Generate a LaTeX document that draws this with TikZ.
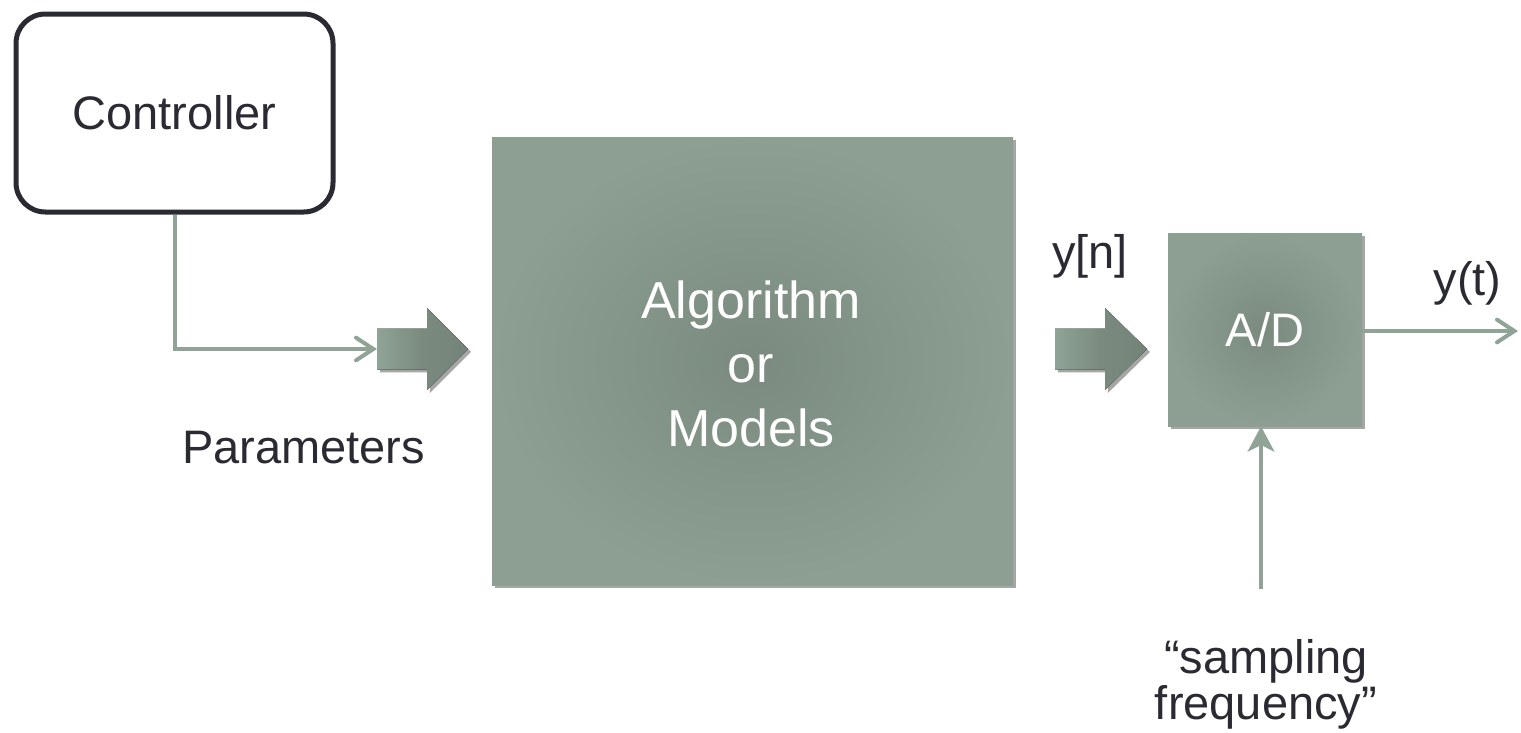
\documentclass[tikz,border=0pt]{standalone}
\usepackage{fontspec}
\setmainfont{Liberation Sans}
\usetikzlibrary{arrows.meta,shadows}
\definecolor{sage}{HTML}{8FA396}
\definecolor{sagedark}{HTML}{7A8A7F}
\definecolor{sagelight}{HTML}{8D9F93}
\definecolor{ink}{HTML}{2A2A33}
\tikzset{
  lbl/.style={text=ink, font=\fontsize{35.25}{42}\selectfont, inner sep=0pt},
  ctrlbox/.style={draw=ink, line width=3.75pt, rounded corners=22pt, fill=white,
     minimum width=237.75pt, minimum height=148.5pt, inner sep=0pt},
  graybox/.style={inner color=sagedark, outer color=sagelight, text=white, inner sep=0pt,
     drop shadow={shadow xshift=2.2pt, shadow yshift=-2.2pt, fill=black, opacity=0.35}},
  conn/.style={draw=sage, line width=3pt},
  barb/.style={-{Straight Barb[length=13pt,width=17pt,line cap=round]}},
  blockarrow/.style={left color=sage, right color=sagedark!95!black, middle color=sagedark,
     drop shadow={shadow xshift=2.2pt, shadow yshift=-2.2pt, fill=black, opacity=0.35}},
}
\begin{document}
\begin{tikzpicture}[x=0.75pt, y=-0.75pt]
\useasboundingbox (0,0) rectangle (1521,732);
% Controller
\node[ctrlbox, lbl, text=ink] (ctrl) at (174.5,113) {Controller};
% block arrow 1
\coordinate (a1) at (377,349);
\fill[blockarrow] (a1) ++(0,-20.5) -- ++(50,0) -- ++(0,-20.5) -- ++(41,41) -- ++(-41,41) -- ++(0,-20.5) -- ++(-50,0) -- cycle;
% main box
\node[graybox, minimum width=390.75pt, minimum height=336pt] (alg) at (752.5,361) {};
\node[text=white, font=\fontsize{39}{48}\selectfont, align=center, inner sep=0pt] (algt) at (751,364) {Algorithm\\or\\Models};
% block arrow 2
\coordinate (a2) at (1055,349);
\fill[blockarrow] (a2) ++(0,-20.5) -- ++(50,0) -- ++(0,-20.5) -- ++(42,41) -- ++(-42,41) -- ++(0,-20.5) -- ++(-50,0) -- cycle;
% A/D box
\node[graybox, minimum width=145.5pt, minimum height=144.75pt, font=\fontsize{35.25}{42}\selectfont] (ad) at (1265,329.5) {A/D};
% labels
\node[lbl, anchor=base] (par) at (303.5,463) {Parameters};
\node[lbl, anchor=base] (yn) at (1090,268) {y[n]};
\node[lbl, anchor=base] (yt) at (1467.5,295) {y(t)};
\node[lbl, align=center, font=\fontsize{35.25}{34.5}\selectfont, anchor=base] (sf) at (1266,719) {“sampling\\frequency”};
% connectors
\draw[conn, barb] (ctrl.south) |- (a1);
\coordinate (out) at (1518,331);
\draw[conn, barb] (ad.east |- out) -- (out);
\coordinate (sfin) at (1261,589);
\draw[conn, -{Stealth[length=19pt,width=20pt,inset=5pt]}] (sfin) -- (sfin |- ad.south);
\end{tikzpicture}
\end{document}
